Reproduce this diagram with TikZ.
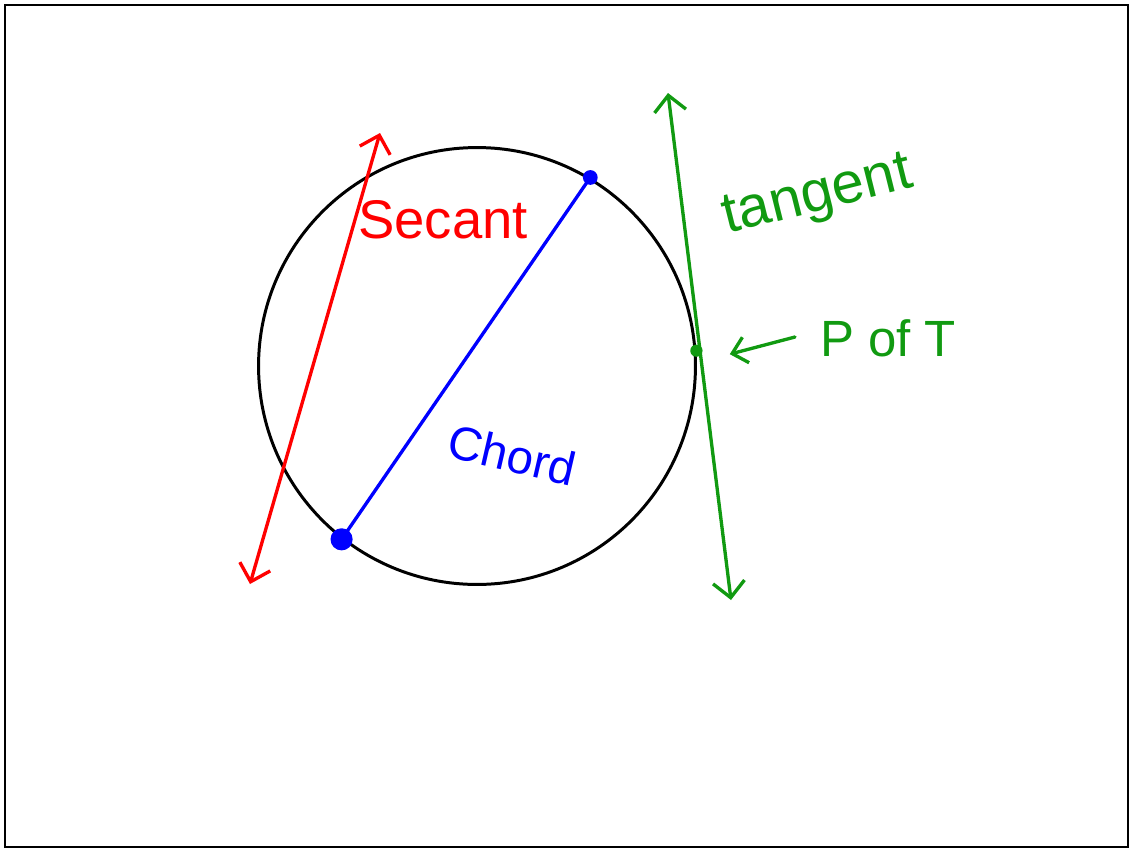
\documentclass[tikz,border=0pt]{standalone}
\usepackage{fontspec}
\setmainfont{Liberation Sans}
\usetikzlibrary{arrows.meta,positioning,calc}
\definecolor{secred}{HTML}{FF0000}
\definecolor{chordblue}{HTML}{0000FF}
\definecolor{tangreen}{HTML}{119A11}
\tikzset{
  frame/.style={draw=black,line width=1.2pt},
  ring/.style={circle,draw=black,line width=1.7pt,minimum size=8.74cm,inner sep=0pt},
  lineof/.style={line width=1.9pt,line cap=round,{Straight Barb[length=9pt,width=18pt,line width=1.9pt]}-{Straight Barb[length=9pt,width=18pt,line width=1.9pt]}},
  dot/.style={circle,fill=#1,inner sep=0pt},
  lbl/.style={font=\fontsize{27}{30}\selectfont,inner sep=0pt},
  pointer/.style={line width=1.9pt,line cap=round,-{Straight Barb[length=8pt,width=15pt,line width=1.9pt]}},
}
\begin{document}
\begin{tikzpicture}[x=0.02cm,y=-0.02cm]
  \useasboundingbox (0,0) rectangle (1129,849);
  \draw[frame] (5,5) rectangle (1128,847);
  % the circle
  \node[ring] (ring) at (477,366) {};
  % secant
  \coordinate (secA) at (250,584);
  \coordinate (secB) at (380,133);
  \draw[lineof,draw=secred] (secA) -- (secB);
  \node[lbl,text=secred,font=\fontsize{31}{34}\selectfont] (seclbl) at (443,220) {Secant};
  % chord
  \node[dot=chordblue,minimum size=18pt*0.7] (chA) at (ring.232.8) {};
  \node[dot=chordblue,minimum size=12pt*0.7] (chB) at (ring.59.7) {};
  \draw[chordblue,line width=1.9pt] (chA.center) -- (chB.center);
  \node[lbl,text=chordblue,rotate=-13] (chlbl) at (512,455) {Chord};
  % tangent
  \coordinate (tanA) at (668,93);
  \coordinate (tanB) at (731,600);
  \draw[lineof,draw=tangreen] (tanA) -- (tanB);
  \node[lbl,text=tangreen,rotate=14,font=\fontsize{33}{36}\selectfont] (tanlbl) at (818,198) {tangent};
  \node[dot=tangreen,minimum size=7pt] (pt) at (ring.4.2) {};
  \node[lbl,text=tangreen,font=\fontsize{29}{32}\selectfont] (ptlbl) at (888,338) {P of T};
  \coordinate (ptail) at (795,337);
  \draw[pointer,tangreen] (ptail) -- ([xshift=19pt,yshift=-2pt]pt.center);
\end{tikzpicture}
\end{document}
